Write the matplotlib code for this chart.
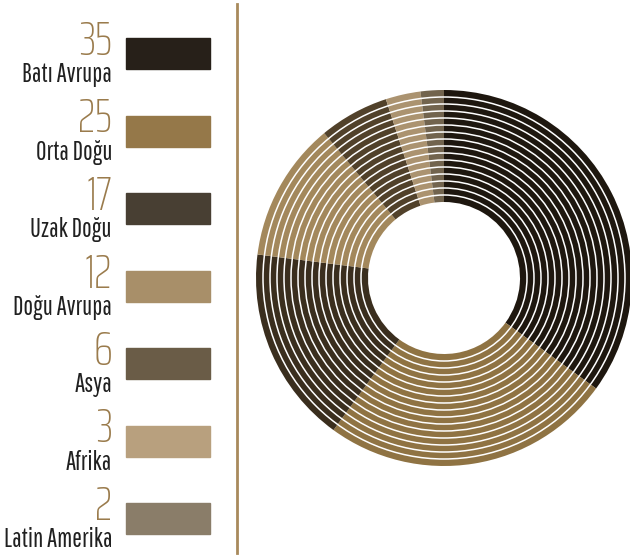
import matplotlib
matplotlib.use("Agg")
import matplotlib.pyplot as plt
from matplotlib.patches import Rectangle, Circle

regions = ["Batı Avrupa", "Orta Doğu", "Uzak Doğu", "Doğu Avrupa", "Asya", "Afrika", "Latin Amerika"]
shares = [35, 25, 17, 12, 6, 3, 2]
swatch_colors = ["#272019", "#957849", "#483f33", "#a88f69", "#6a5c47", "#b8a07e", "#8a7d69"]
slice_colors = ["#1e170f", "#8f7343", "#3a2e1e", "#a3885c", "#51412a", "#ab9370", "#72644e"]

W, H = 630, 557
fig = plt.figure(figsize=(W / 100, H / 100), dpi=100)
fig.patch.set_facecolor("white")

label_font = ["Pathway Gothic One", "DejaVu Sans"]
num_font = ["Saira ExtraCondensed", "DejaVu Sans"]
num_color = "#9a7b4c"

# legend column: number, name, swatch
row_step = 77.5
for i, (name, val) in enumerate(zip(regions, shares)):
    y0 = 38 + i * row_step
    fig.text(112 / W, 1 - (y0 + 17) / H, str(val), ha="right", va="baseline",
             fontsize=35, color=num_color, family=num_font, fontweight=200)
    fig.text(112 / W, 1 - (y0 + 44) / H, name, ha="right", va="baseline",
             fontsize=18.5, color="#202020", family=label_font)
    fig.patches.append(Rectangle((126 / W, 1 - (y0 + 31) / H), 84 / W, 31 / H,
                                 transform=fig.transFigure, color=swatch_colors[i]))

# separator line
fig.add_artist(plt.Line2D([237 / W, 237 / W], [1 - 4 / H, 1 - 553 / H],
                          transform=fig.transFigure, color="#a88a5c", lw=2))

# donut
cx, cy, R, r_in = 444, 278, 188, 76
half = 192
ax = fig.add_axes([(cx - half) / W, 1 - (cy + half) / H, 2 * half / W, 2 * half / H])
ax.pie(shares, colors=slice_colors, startangle=90, counterclock=False, radius=1,
       wedgeprops=dict(width=1 - r_in / R, linewidth=0))
ax.set_xlim(-half / R, half / R)
ax.set_ylim(-half / R, half / R)
ax.set_aspect("equal")
ax.axis("off")

# thin white rings across the donut
n_rings = 16
for k in range(1, n_rings):
    rr = r_in / R + k * (1 - r_in / R) / n_rings
    ax.add_patch(Circle((0, 0), rr, fill=False, ec="white", lw=1.1))

fig.savefig("out.png", dpi=100, facecolor="white")
